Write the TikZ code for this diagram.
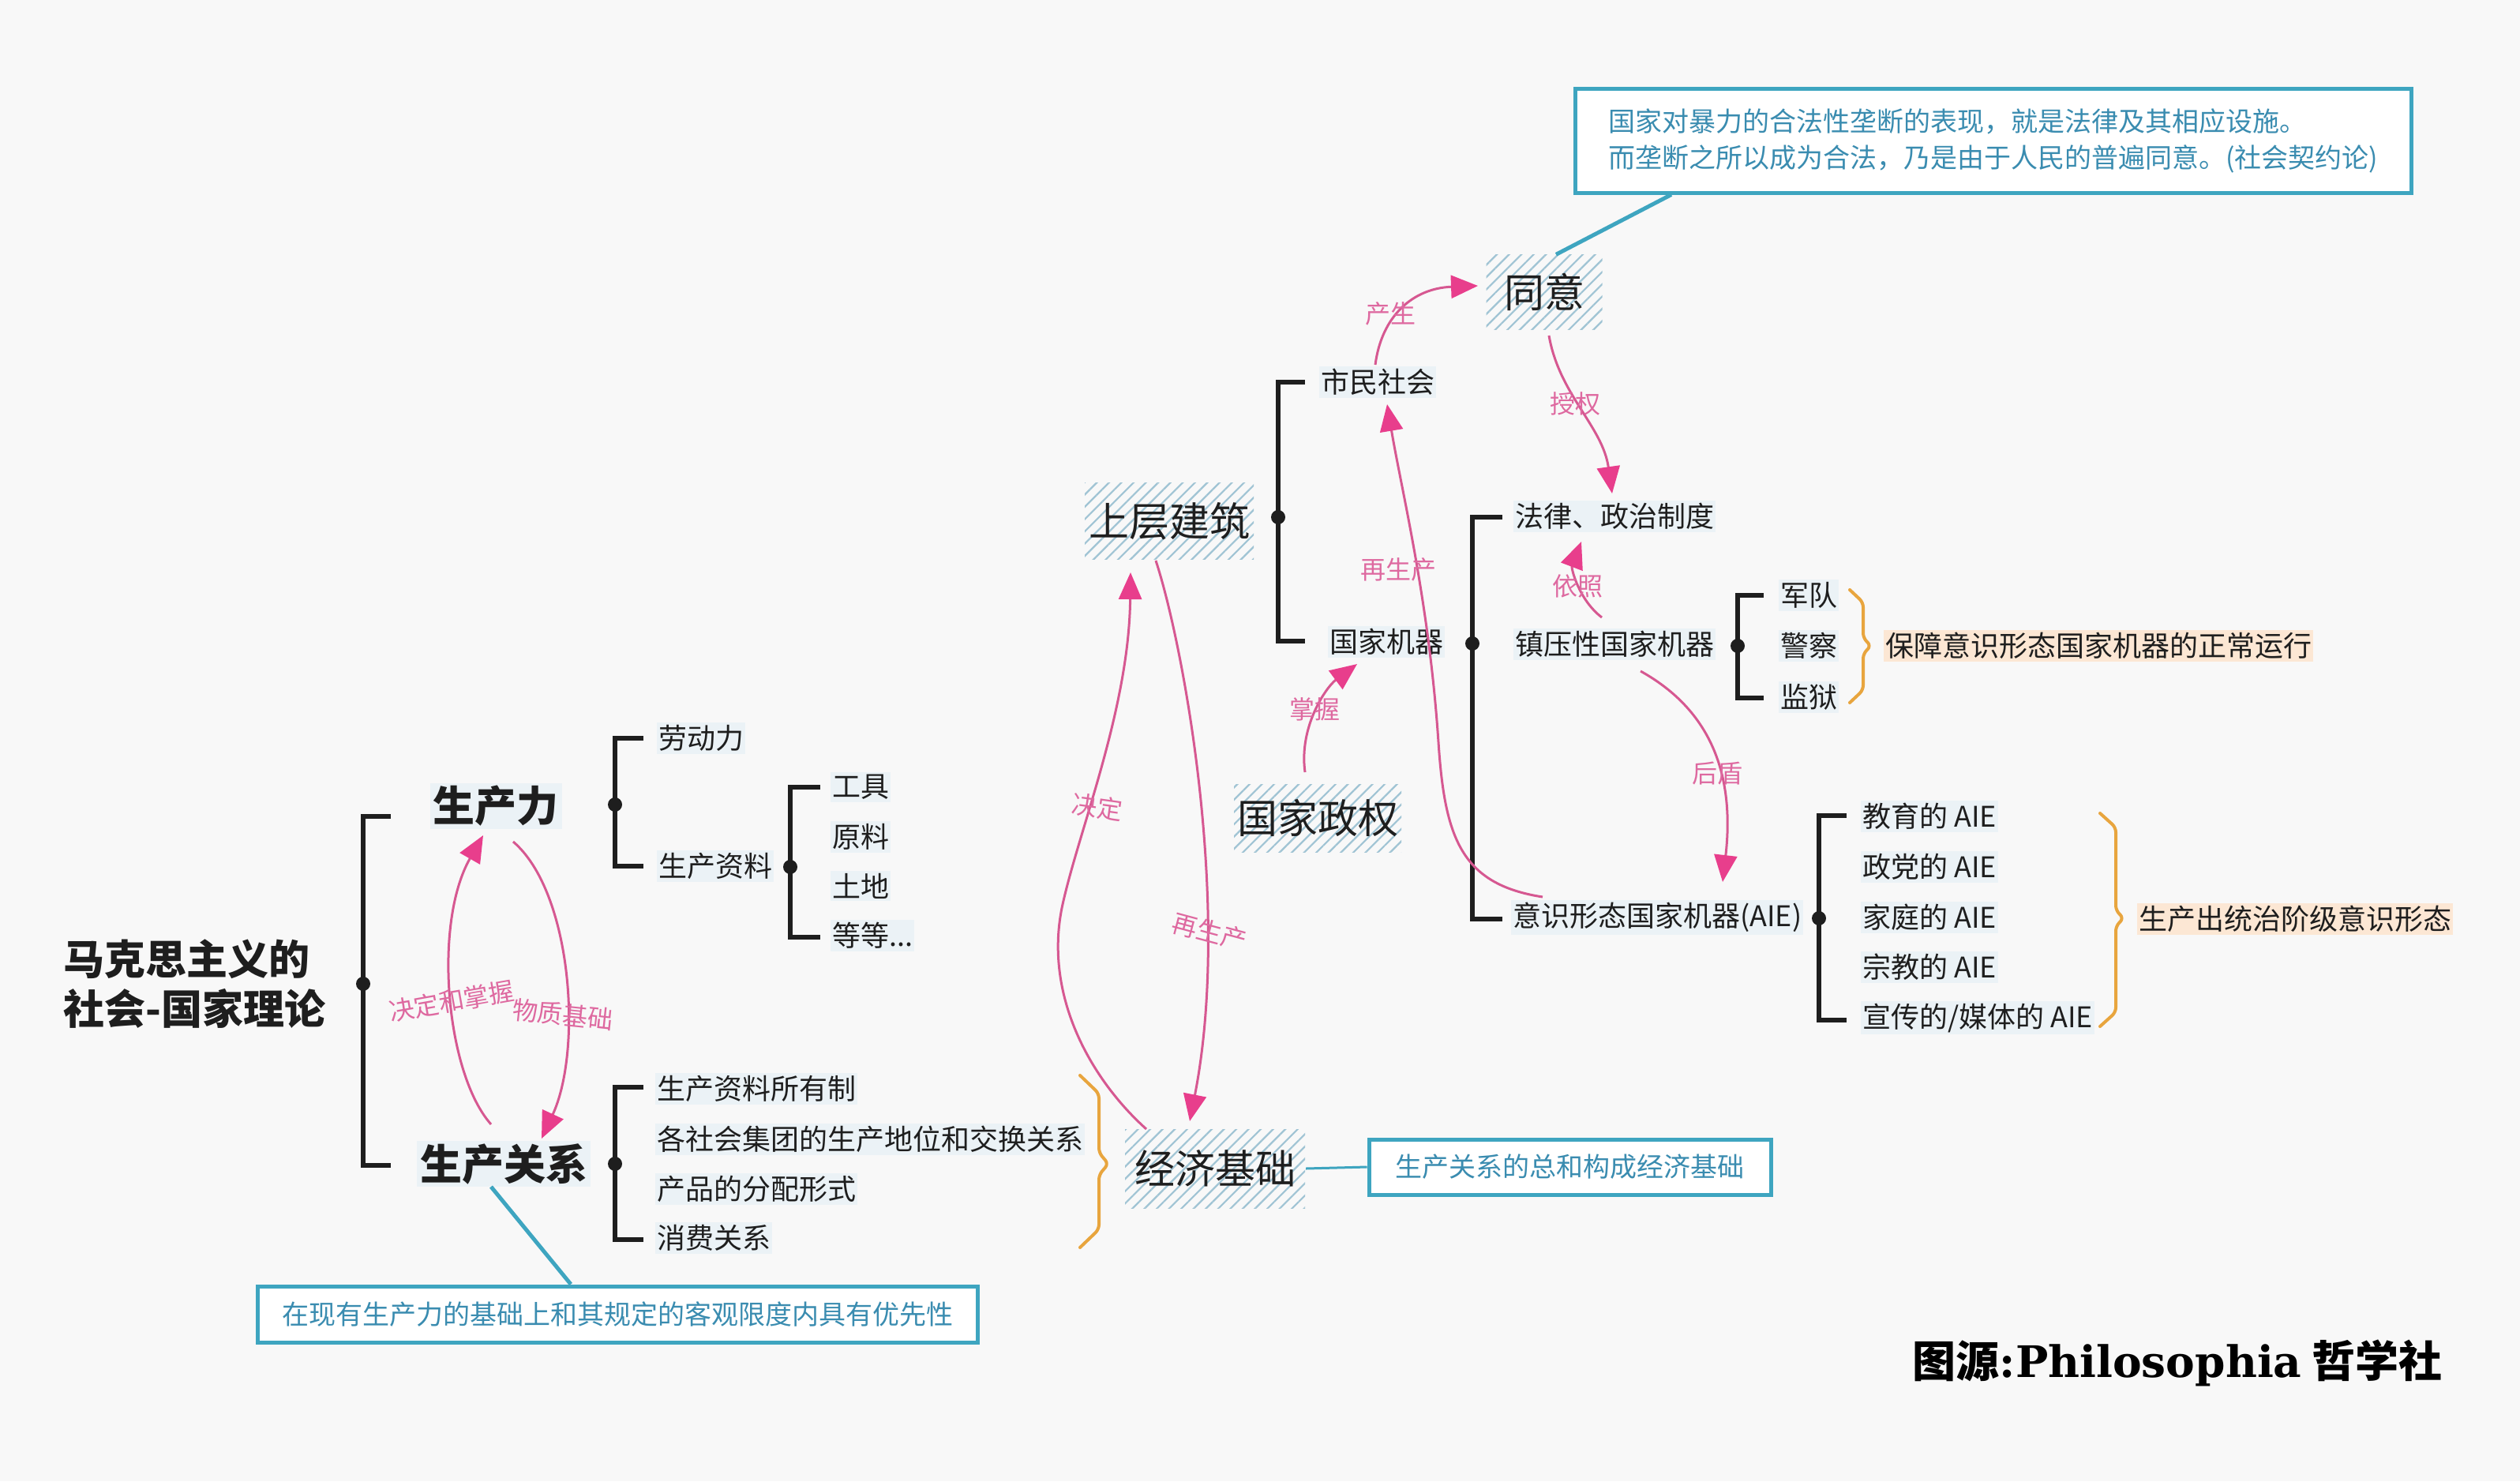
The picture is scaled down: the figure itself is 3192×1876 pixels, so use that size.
\documentclass[tikz,border=0pt]{standalone}
\usepackage{fontspec}
\setmainfont{Noto Sans CJK SC}
\newfontfamily\sigserif{DejaVu Serif}
\usetikzlibrary{arrows.meta,patterns.meta}
\definecolor{bgc}{RGB}{248,248,248}
\definecolor{ink}{RGB}{30,30,30}
\definecolor{itembg}{RGB}{235,242,246}
\definecolor{hatchc}{RGB}{160,196,212}
\definecolor{pinkl}{RGB}{214,88,145}
\definecolor{pinkh}{RGB}{232,62,140}
\definecolor{pinkt}{RGB}{222,105,160}
\definecolor{tealc}{RGB}{62,165,192}
\definecolor{tealt}{RGB}{58,140,176}
\definecolor{orangec}{RGB}{232,165,62}
\definecolor{peach}{RGB}{252,231,212}
\begin{document}
\begin{tikzpicture}[x=1pt,y=-1pt,
  item/.style={anchor=west,font=\fontsize{36}{40}\selectfont,fill=itembg,inner xsep=2pt,inner ysep=3pt,text=ink},
  bignode/.style={font=\fontsize{53}{60}\selectfont\bfseries,fill=itembg,inner xsep=4pt,inner ysep=3pt,text=ink},
  hatchbox/.style={font=\fontsize{51}{56}\selectfont,pattern={Lines[angle=45,distance=11pt,line width=2.2pt]},pattern color=hatchc,inner sep=0pt,text=ink},
  brk/.style={line width=6pt,draw=ink,line join=miter},
  parr/.style={draw=pinkl,line width=3pt,-{Triangle[length=34pt,width=29pt,color=pinkh]}},
  plab/.style={text=pinkt,font=\fontsize{32}{36}\selectfont,inner sep=0pt},
  tbox/.style={draw=tealc,line width=5pt,text=tealt,font=\fontsize{34}{46}\selectfont,fill=white,inner sep=0pt},
  tline/.style={draw=tealc,line width=5pt},
  bracestyle/.style={draw=orangec,line width=4pt,line join=round,line cap=round,rounded corners=6pt},
  peachlab/.style={anchor=west,font=\fontsize{36}{40}\selectfont,fill=peach,inner xsep=2pt,inner ysep=3pt,text=ink}
]
\path[fill=bgc] (0,0) rectangle (3192,1876);
\useasboundingbox (0,0) rectangle (3192,1876);

% ---------- nodes ----------
\node[anchor=west,font=\fontsize{52}{63}\selectfont\bfseries,align=left,text=ink] (title) at (77,1246) {马克思主义的\\社会-国家理论};
\node[bignode] (scl) at (628,1021) {生产力};
\node[bignode] (scgx) at (638,1474) {生产关系};
\node[item] (ldl) at (832,935) {劳动力};
\node[item] (sczl) at (832,1097) {生产资料};
\node[item] (gj) at (1052,997) {工具};
\node[item] (yl) at (1052,1060) {原料};
\node[item] (td) at (1052,1122) {土地};
\node[item] (dd) at (1052,1185) {等等...};
\node[item] (g1) at (830,1379) {生产资料所有制};
\node[item] (g2) at (830,1443) {各社会集团的生产地位和交换关系};
\node[item] (g3) at (830,1506) {产品的分配形式};
\node[item] (g4) at (830,1568) {消费关系};

\node[hatchbox,minimum width=228pt,minimum height=100pt] (jjjc) at (1539,1480) {经济基础};
\node[hatchbox,minimum width=214pt,minimum height=97pt] (scjz) at (1481,660) {上层建筑};
\node[hatchbox,minimum width=212pt,minimum height=86pt] (gjzq) at (1669,1036) {国家政权};
\node[hatchbox,minimum width=147pt,minimum height=95pt] (ty) at (1956,370) {同意};

\node[item] (smsh) at (1671,484) {市民社会};
\node[item] (gjjq) at (1682,813) {国家机器};
\node[item] (fl) at (1917,654) {法律、政治制度};
\node[item] (zyx) at (1917,816) {镇压性国家机器};
\node[item] (aie) at (1914,1162) {意识形态国家机器(AIE)};
\node[item] (jd) at (2253,754) {军队};
\node[item] (jc) at (2253,818) {警察};
\node[item] (jy) at (2253,883) {监狱};
\node[peachlab] (bz) at (2386,818) {保障意识形态国家机器的正常运行};
\node[item] (a1) at (2357,1034) {教育的 AIE};
\node[item] (a2) at (2357,1098) {政党的 AIE};
\node[item] (a3) at (2357,1162) {家庭的 AIE};
\node[item] (a4) at (2357,1225) {宗教的 AIE};
\node[item] (a5) at (2357,1289) {宣传的/媒体的 AIE};
\node[peachlab] (sccl) at (2707,1164) {生产出统治阶级意识形态};

\node[tbox,minimum width=1059pt,minimum height=132pt,align=left] (topbox) at (2524.5,178) {国家对暴力的合法性垄断的表现，就是法律及其相应设施。\\而垄断之所以成为合法，乃是由于人民的普遍同意。(社会契约论)};
\node[tbox,minimum width=509pt,minimum height=70pt] (rbox) at (1988.5,1478) {生产关系的总和构成经济基础};
\node[tbox,minimum width=912pt,minimum height=71pt] (bbox) at (782,1664.5) {在现有生产力的基础上和其规定的客观限度内具有优先性};

\node[font=\fontsize{55}{60}\selectfont\bfseries,text=black] (sig) at (2758,1726) {图源{\sigserif\bfseries :Philosophia} 哲学社};

% ---------- brackets ----------
\coordinate (d0) at (460,1246);  \coordinate (t0a) at (495,1034); \coordinate (t0b) at (495,1476);
\coordinate (d1) at (779,1019);  \coordinate (t1a) at (815,935);  \coordinate (t1b) at (815,1097);
\coordinate (d2) at (1001,1098); \coordinate (t2a) at (1039,997); \coordinate (t2b) at (1039,1187);
\coordinate (d3) at (779,1474);  \coordinate (t3a) at (815,1377); \coordinate (t3b) at (815,1570);
\coordinate (d4) at (1619,655);  \coordinate (t4a) at (1653,484); \coordinate (t4b) at (1653,812);
\coordinate (d5) at (1865,815);  \coordinate (t5a) at (1903,655); \coordinate (t5b) at (1903,1164);
\coordinate (d6) at (2201,818);  \coordinate (t6a) at (2234,754); \coordinate (t6b) at (2234,884);
\coordinate (d7) at (2304,1163); \coordinate (t7a) at (2339,1033); \coordinate (t7b) at (2339,1292);
\foreach \i in {0,...,7}{
  \draw[brk] (t\i a) -| (d\i) |- (t\i b);
  \fill[ink] (d\i) circle (9pt);
}

% ---------- braces ----------
\draw[bracestyle] (1368,1362) -- (1392,1385) -- (1392,1460) -- (1404,1474) -- (1392,1488) -- (1392,1557) -- (1368,1580);
\draw[bracestyle] (2343,747) -- (2360,763) -- (2360,808) -- (2370,818) -- (2360,828) -- (2360,874) -- (2343,890);
\draw[bracestyle] (2660,1030) -- (2680,1048) -- (2680,1153) -- (2690,1163) -- (2680,1173) -- (2680,1282) -- (2660,1300);

% ---------- teal connectors ----------
\draw[tline] ([xshift=15pt]ty.north) -- ([xshift=-407.5pt]topbox.south);
\draw[tealc,line width=3pt] (jjjc.east) -- (rbox.west);
\draw[tline] ([xshift=-16pt]scgx.south) -- ([xshift=-59pt]bbox.north);

% ---------- pink arrows ----------
\coordinate (p1s) at (622,1424);  \coordinate (p1e) at (612,1058);
\coordinate (p2s) at (650,1066);  \coordinate (p2e) at (686,1442);
\coordinate (p3s) at (1452,1430); \coordinate (p3m) at (1345,1150); \coordinate (p3e) at (1432,725);
\coordinate (p4s) at (1464,710);  \coordinate (p4e) at (1507,1420);
\coordinate (p5s) at (1653,978);  \coordinate (p5e) at (1719,841);
\coordinate (p6s) at (1954,1136); \coordinate (p6m) at (1822,940); \coordinate (p6e) at (1757,512);
\coordinate (p7s) at (1742,462);  \coordinate (p7e) at (1872,362);
\coordinate (p8s) at (1962,425);  \coordinate (p8e) at (2042,625);
\coordinate (p9s) at (2029,782);  \coordinate (p9e) at (2003,686);
\coordinate (p10s) at (2078,850); \coordinate (p10e) at (2182,1117);

\draw[parr] (p1s) .. controls (565,1360) and (548,1170) .. (p1e);
\draw[parr] (p2s) .. controls (725,1130) and (738,1330) .. (p2e);
\draw[parr] (p3s) .. controls (1385,1370) and (1322,1265) .. (p3m) .. controls (1365,1055) and (1430,900) .. (p3e);
\draw[parr] (p4s) .. controls (1500,820) and (1560,1150) .. (p4e);
\draw[parr] (p5s) .. controls (1645,920) and (1680,870) .. (p5e);
\draw[parr] (p6s) .. controls (1850,1120) and (1830,1060) .. (p6m) .. controls (1810,760) and (1775,620) .. (p6e);
\draw[parr] (p7s) .. controls (1750,400) and (1790,365) .. (p7e);
\draw[parr] (p8s) .. controls (1975,500) and (2030,540) .. (p8e);
\draw[parr] (p9s) .. controls (2000,760) and (1990,720) .. (p9e);
\draw[parr] (p10s) .. controls (2150,890) and (2200,960) .. (p10e);

\node[plab,rotate=10] (lb1) at (572,1268) {决定和掌握};
\node[plab,rotate=-6] (lb2) at (713,1285) {物质基础};
\node[plab,rotate=-8] (lb3) at (1390,1022) {决定};
\node[plab,rotate=-15] (lb4) at (1532,1180) {再生产};
\node[plab] (lb5) at (1665,898) {掌握};
\node[plab] (lb6) at (1771,721) {再生产};
\node[plab] (lb7) at (1761,397) {产生};
\node[plab] (lb8) at (1995,511) {授权};
\node[plab] (lb9) at (1998,742) {依照};
\node[plab] (lb10) at (2175,980) {后盾};
\end{tikzpicture}
\end{document}
